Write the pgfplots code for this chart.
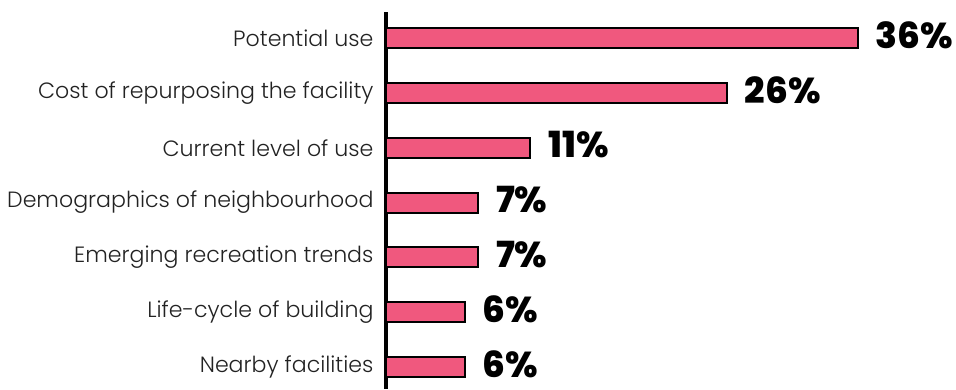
\documentclass[border=0pt]{standalone}
\usepackage{pgfplots}
\pgfplotsset{compat=1.18}
\usepackage{fontspec}
\setmainfont{Poppins}
\newfontfamily\lab{Poppins}[UprightFont=* Light]
\newfontfamily\val{Poppins}[UprightFont=* ExtraBold]
\definecolor{barpink}{RGB}{240,88,126}
\definecolor{labgray}{RGB}{34,34,34}

\begin{document}
\begin{tikzpicture}
\useasboundingbox (-386pt,0pt) rectangle (570pt,389pt);
\begin{axis}[
    at={(0pt,0pt)}, anchor=south west,
    scale only axis,
    width=524pt, height=376.9pt,
    xbar, bar width=20pt,
    xmin=0, xmax=40,
    ymin=-0.474, ymax=6.4,
    y dir=reverse,
    axis x line=none,
    axis y line=left,
    y axis line style={line width=4pt, -},
    ytick=data,
    yticklabels={Potential use, Cost of repurposing the facility, Current level of use, Demographics of neighbourhood, Emerging recreation trends, Life-cycle of building, Nearby facilities},
    major tick length=0pt,
    yticklabel style={font=\lab\fontsize{22.1}{24}\selectfont, text=labgray, xshift=-9pt},
    nodes near coords,
    nodes near coords style={font=\val\fontsize{36}{38}\selectfont, black, anchor=west, xshift=14pt, yshift=3pt},
    point meta=explicit symbolic,
    clip=false,
]
\addplot[fill=barpink, draw=black, line width=2pt] coordinates {
(36,0) [36\%] (26,1) [26\%] (11,2) [11\%] (7,3) [7\%] (7,4) [7\%] (6,5) [6\%] (6,6) [6\%]
};
\end{axis}
\end{tikzpicture}
\end{document}
